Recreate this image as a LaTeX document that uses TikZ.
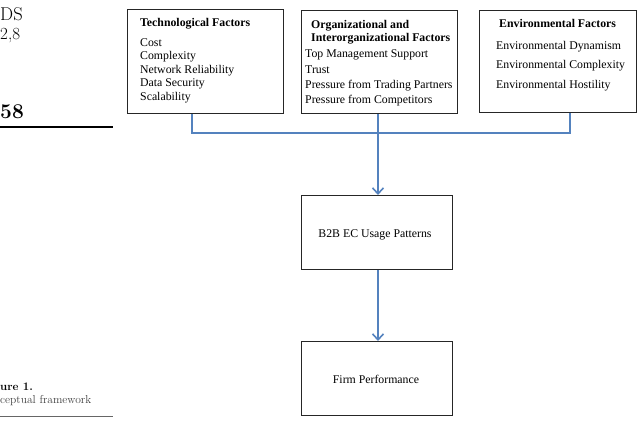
\documentclass[tikz,border=0pt]{standalone}
\usepackage{fontspec}
\newfontfamily\tnr{Liberation Serif}
\usetikzlibrary{arrows.meta}
\definecolor{connblue}{RGB}{84,130,190}
\begin{document}
\begin{tikzpicture}[x=1pt,y=-1pt,
  box/.style={draw=black!85, line width=1.4pt, anchor=north west, inner sep=0pt},
  txt/.style={anchor=base west, inner sep=0pt, font=\tnr\fontsize{11.8}{13}\selectfont},
  hdr/.style={txt, font=\tnr\bfseries\fontsize{11.8}{13}\selectfont},
  ctr/.style={anchor=base, inner sep=0pt, font=\tnr\fontsize{11.8}{13}\selectfont},
  conn/.style={draw=connblue, line width=1.8pt},
  arr/.style={conn, -{Straight Barb[length=6pt,width=11pt,line width=1.6pt]}},
  marg/.style={anchor=base west, inner sep=0pt}]
\useasboundingbox (0,0) rectangle (640,424);

% margin texts
\node[marg, font=\fontsize{18.5}{20}\selectfont] (m1) at (0,20) {DS};
\node[marg, font=\fontsize{17}{20}\selectfont] (m2) at (0,39) {2,8};
\node[marg, font=\bfseries\fontsize{21}{22}\selectfont] (m3) at (0,118) {58};
\draw[line width=2.2pt] (0,127) coordinate (r1a) -- (113,127) coordinate (r1b);
\node[marg, font=\bfseries\fontsize{11.5}{13}\selectfont] (m4) at (0,390) {ure 1.};
\node[marg, text=black!75, font=\fontsize{11.5}{13}\selectfont] (m5) at (0,403) {ceptual framework};
\draw[line width=0.9pt, black!60] (0,416) coordinate (r2a) -- (113,416) coordinate (r2b);

% boxes
\node[box, minimum width=156pt, minimum height=104pt] (tech) at (127,9) {};
\node[box, minimum width=156pt, minimum height=103pt] (org) at (301,10) {};
\node[box, minimum width=157pt, minimum height=102pt] (env) at (479,10) {};
\node[box, minimum width=151pt, minimum height=74pt] (b2b) at (301,195) {};
\node[box, minimum width=151pt, minimum height=74pt] (firm) at (301,341) {};

% tech texts
\node[hdr] (t0) at (140,26) {Technological Factors};
\node[txt] (t1) at (140,46) {Cost};
\node[txt] (t2) at (140,59.5) {Complexity};
\node[txt] (t3) at (140,73) {Network Reliability};
\node[txt] (t4) at (140,86.5) {Data Security};
\node[txt] (t5) at (140,100) {Scalability};

% org texts
\node[hdr] (o0) at (311,28) {Organizational and};
\node[hdr] (o1) at (311,41.5) {Interorganizational Factors};
\node[txt] (o2) at (305,57) {Top Management Support};
\node[txt] (o3) at (305,73) {Trust};
\node[txt] (o4) at (305,88) {Pressure from Trading Partners};
\node[txt] (o5) at (305,103) {Pressure from Competitors};

% env texts
\node[hdr] (e0) at (499,27) {Environmental Factors};
\node[txt] (e1) at (496,49) {Environmental Dynamism};
\node[txt] (e2) at (496,68) {Environmental Complexity};
\node[txt] (e3) at (496,88) {Environmental Hostility};

% center texts
\node[ctr] (b2bt) at (375,237) {B2B EC Usage Patterns};
\node[ctr] (firmt) at (376,383) {Firm Performance};

% connectors
\coordinate (jl) at (192,133);
\coordinate (jm) at (378,133);
\coordinate (jr) at (570,133);
\draw[conn] (tech.south -| jl) -- (jl) -- (jr) -- (env.south -| jr);
\draw[conn] (org.south -| jm) -- (jm);
\draw[arr] (jm) -- (b2b.north -| jm);
\draw[arr] (b2b.south -| jm) -- (firm.north -| jm);
\end{tikzpicture}
\end{document}
